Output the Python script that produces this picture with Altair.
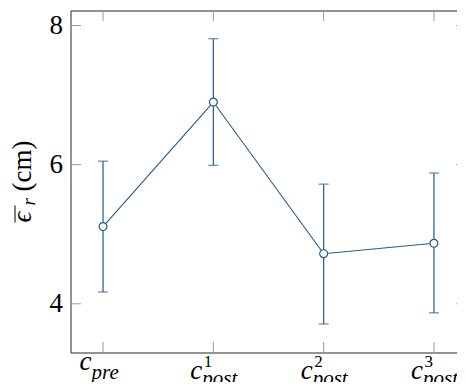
import altair as alt
import pandas as pd

# ---- data ----
categories = ["pre", "post1", "post2", "post3"]
label_base = ["c", "c", "c", "c"]
label_sup = ["", "1", "2", "3"]
label_sub = ["pre", "post", "post", "post"]
means = [5.11, 6.90, 4.72, 4.87]
lower = [4.17, 5.99, 3.71, 3.87]
upper = [6.05, 7.81, 5.72, 5.88]
y_ticks = [4, 6, 8]
title_symbol = "\u03f5"
title_index = "r"
title_unit = "(cm)"

W, H = 396, 342
BLUE = "#1f5b8c"
TICK = "#9a9a9a"
FONT = "Liberation Serif"

df = pd.DataFrame({
    "cat": categories, "base": label_base, "sup": label_sup, "sub": label_sub,
    "mean": means, "lo": lower, "hi": upper,
})
ticks_df = pd.DataFrame({"v": y_ticks})
title_df = pd.DataFrame({"sym": [title_symbol], "idx": [title_index], "unit": [title_unit]})

x_enc = alt.X("cat:N", sort=categories, scale=alt.Scale(type="point", padding=0.295), axis=None)
y_scale = alt.Scale(domain=[3.30, 8.2156], nice=False, zero=False)

base = alt.Chart(df)

errbars = base.mark_rule(color=BLUE, strokeWidth=1.2).encode(
    x=x_enc,
    y=alt.Y("lo:Q", scale=y_scale, axis=alt.Axis(values=y_ticks, format="d", ticks=False, domain=False,
                                                 grid=False, labelFont=FONT, labelFontSize=27,
                                                 labelColor="black", labelPadding=8, title=None)),
    y2="hi:Q",
)
cap_lo = base.mark_tick(color=BLUE, orient="horizontal", size=10, thickness=1.2).encode(
    x=x_enc, y=alt.Y("lo:Q", scale=y_scale))
cap_hi = base.mark_tick(color=BLUE, orient="horizontal", size=10, thickness=1.2).encode(
    x=x_enc, y=alt.Y("hi:Q", scale=y_scale))
line = base.mark_line(color=BLUE, strokeWidth=1.1).encode(
    x=x_enc, y=alt.Y("mean:Q", scale=y_scale))
points = base.mark_point(shape="circle", filled=True, fill="white", stroke=BLUE, strokeWidth=1.2,
                         size=62, opacity=1).encode(
    x=x_enc, y=alt.Y("mean:Q", scale=y_scale))

# inward ticks on all four sides
tk = alt.Chart(ticks_df)
tick_left = tk.mark_rule(color=TICK, strokeWidth=1).encode(
    y=alt.Y("v:Q", scale=y_scale), x=alt.value(0), x2=alt.value(10.5))
tick_right = tk.mark_rule(color=TICK, strokeWidth=1).encode(
    y=alt.Y("v:Q", scale=y_scale), x=alt.value(W - 10.5), x2=alt.value(W))
tick_bottom = base.mark_rule(color=TICK, strokeWidth=1).encode(
    x=x_enc, y=alt.value(H - 10.5), y2=alt.value(H))
tick_top = base.mark_rule(color=TICK, strokeWidth=1).encode(
    x=x_enc, y=alt.value(0), y2=alt.value(10.5))

# x tick labels with sub/superscripts
pre = base.transform_filter("datum.sup == ''")
post = base.transform_filter("datum.sup != ''")
lab_pre_c = pre.mark_text(font=FONT, fontStyle="italic", fontSize=27, align="right",
                          baseline="alphabetic", dx=-11.5).encode(x=x_enc, y=alt.value(359), text="base:N")
lab_pre_sub = pre.mark_text(font=FONT, fontStyle="italic", fontSize=21, align="left",
                            baseline="alphabetic", dx=-11.5).encode(x=x_enc, y=alt.value(368.5), text="sub:N")
lab_post_c = post.mark_text(font=FONT, fontStyle="italic", fontSize=27, align="right",
                            baseline="alphabetic", dx=-11).encode(x=x_enc, y=alt.value(368), text="base:N")
lab_post_sup = post.mark_text(font=FONT, fontSize=17, align="left",
                              baseline="alphabetic", dx=-9.5).encode(x=x_enc, y=alt.value(356), text="sup:N")
lab_post_sub = post.mark_text(font=FONT, fontStyle="italic", fontSize=21, align="left",
                              baseline="alphabetic", dx=-11).encode(x=x_enc, y=alt.value(374), text="sub:N")

# y title (rotated): overlined epsilon with subscript r, then (cm)
tt = alt.Chart(title_df)
t_sym = tt.mark_text(font=FONT, fontStyle="italic", fontSize=27, angle=270, align="left",
                     baseline="alphabetic").encode(x=alt.value(-39.5), y=alt.value(212), text="sym:N")
t_idx = tt.mark_text(font=FONT, fontStyle="italic", fontSize=19, angle=270, align="left",
                     baseline="alphabetic").encode(x=alt.value(-35.5), y=alt.value(195), text="idx:N")
t_unit = tt.mark_text(font=FONT, fontSize=27, angle=270, align="left",
                      baseline="alphabetic").encode(x=alt.value(-39.5), y=alt.value(181), text="unit:N")
t_bar = tt.mark_rule(color="black", strokeWidth=1).encode(
    x=alt.value(-55.5), y=alt.value(195), y2=alt.value(212))

chart = alt.layer(
    tick_left, tick_right, tick_bottom, tick_top,
    errbars, cap_lo, cap_hi, line, points,
    lab_pre_c, lab_pre_sub, lab_post_c, lab_post_sup, lab_post_sub,
    t_sym, t_idx, t_unit, t_bar,
).properties(
    width=W, height=H,
    autosize=alt.AutoSizeParams(type="none"),
    padding={"left": 62.5, "top": 2.5, "right": -9.5, "bottom": 29.5},
).configure_view(stroke="#262626", strokeWidth=1)

chart.save("out.html", embed_options={"renderer": "svg", "actions": False})
